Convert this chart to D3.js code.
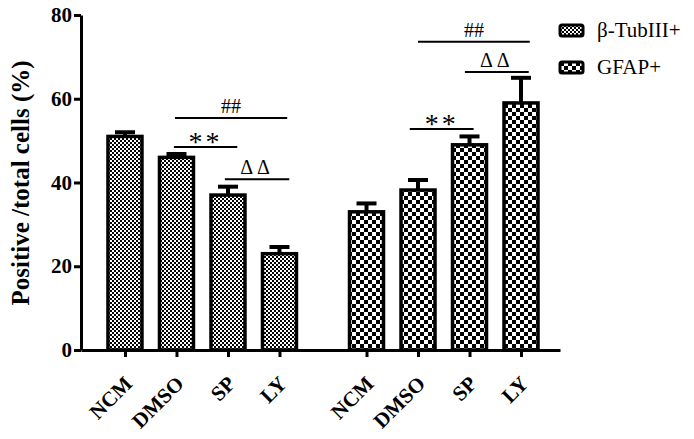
<!DOCTYPE html>
<html>
<head>
<meta charset="utf-8">
<script src="https://cdn.jsdelivr.net/npm/d3@7"></script>
<style>
  body { margin: 0; background: #fff; }
  svg { display: block; font-family: "Liberation Serif", "Times New Roman", serif; }
</style>
</head>
<body>
<div id="chart"></div>
<script>
// groups and values
var categories = ["NCM", "DMSO", "SP", "LY"];
var series = ["β-TubIII+", "GFAP+"];
var tubValues = [51.0, 46.0, 37.0, 23.0];
var tubErrors = [1.0, 0.8, 2.0, 1.6];
var gfapValues = [33.0, 38.2, 49.0, 59.0];
var gfapErrors = [2.0, 2.4, 2.0, 6.0];
var yTicks = [0, 20, 40, 60, 80];

// significance brackets: [series index, from position, to position, y value, label]
var sigGroup1 = [[0, 0.97, 3.15, 55.4, "##"], [0, 0.95, 2.18, 48.5, "**"], [0, 1.94, 3.19, 40.8, "ΔΔ"]];
var sigGroup2 = [[1, 1.0, 3.17, 73.6, "##"], [1, 1.91, 3.15, 66.4, "ΔΔ"], [1, 0.84, 2.08, 52.8, "**"]];

var width = 694, height = 439;
var groupGap = 4.69; // slot offset of second group

var svg = d3.select("#chart").append("svg")
    .attr("width", width)
    .attr("height", height);

// patterns
var defs = svg.append("defs");
var fine = defs.append("pattern").attr("id", "fine")
    .attr("patternUnits", "userSpaceOnUse").attr("width", 4).attr("height", 4);
fine.append("rect").attr("width", 4).attr("height", 4).attr("fill", "#fff");
fine.append("rect").attr("width", 2).attr("height", 2).attr("fill", "#000");
fine.append("rect").attr("x", 2).attr("y", 2).attr("width", 2).attr("height", 2).attr("fill", "#000");

var coarse = defs.append("pattern").attr("id", "coarse")
    .attr("patternUnits", "userSpaceOnUse").attr("width", 8).attr("height", 8);
coarse.append("rect").attr("width", 8).attr("height", 8).attr("fill", "#fff");
coarse.append("rect").attr("width", 4).attr("height", 4).attr("fill", "#000");
coarse.append("rect").attr("x", 4).attr("y", 4).attr("width", 4).attr("height", 4).attr("fill", "#000");

var fills = ["url(#fine)", "url(#coarse)"];

var x = d3.scaleLinear().domain([-0.854, 8.447]).range([81, 560]);
var y = d3.scaleLinear().domain([0, 80]).range([350, 15]);

var dataset = [];
categories.forEach(function (c, i) {
    dataset.push({ s: 0, cat: c, pos: i, v: tubValues[i], e: tubErrors[i] });
});
categories.forEach(function (c, i) {
    dataset.push({ s: 1, cat: c, pos: i + groupGap, v: gfapValues[i], e: gfapErrors[i] });
});

var barW = 34;

// error bars (upper only)
var err = svg.append("g");
err.selectAll("line.stem")
    .data(dataset).enter().append("line")
    .attr("class", "stem")
    .attr("x1", function (d) { return x(d.pos); })
    .attr("x2", function (d) { return x(d.pos); })
    .attr("y1", function (d) { return y(d.v); })
    .attr("y2", function (d) { return y(d.v + d.e); })
    .attr("stroke", "#000").attr("stroke-width", 4);
err.selectAll("line.cap")
    .data(dataset).enter().append("line")
    .attr("class", "cap")
    .attr("x1", function (d) { return x(d.pos) - 10; })
    .attr("x2", function (d) { return x(d.pos) + 10; })
    .attr("y1", function (d) { return y(d.v + d.e); })
    .attr("y2", function (d) { return y(d.v + d.e); })
    .attr("stroke", "#000").attr("stroke-width", 4);

// bars
svg.selectAll("rect.bar")
    .data(dataset).enter().append("rect")
    .attr("class", "bar")
    .attr("x", function (d) { return x(d.pos) - barW / 2; })
    .attr("y", function (d) { return y(d.v); })
    .attr("width", barW)
    .attr("height", function (d) { return y(0) - y(d.v); })
    .attr("fill", function (d) { return fills[d.s]; })
    .attr("stroke", "#000").attr("stroke-width", 3.5);

// axes
var yAxis = d3.axisLeft(y).tickValues(yTicks).tickSize(7).tickSizeOuter(0).tickPadding(2);
var gy = svg.append("g").attr("transform", "translate(81,0)").call(yAxis);
gy.select(".domain").attr("stroke-width", 3);
gy.selectAll(".tick line").attr("stroke-width", 3);
gy.selectAll(".tick text")
    .attr("font-family", "Liberation Serif").attr("font-weight", "bold")
    .attr("font-size", 21).attr("fill", "#000");

var xAxis = d3.axisBottom(x)
    .tickValues(dataset.map(function (d) { return d.pos; }))
    .tickFormat(function (p) {
        var d = dataset.find(function (e) { return e.pos === p; });
        return d.cat;
    })
    .tickSize(7).tickSizeOuter(0);
var gx = svg.append("g").attr("transform", "translate(0,350)").call(xAxis);
gx.select(".domain").attr("stroke-width", 3);
gx.selectAll(".tick line").attr("stroke-width", 3);
gx.selectAll(".tick text")
    .attr("y", 0).attr("dy", 0)
    .attr("text-anchor", "end")
    .attr("transform", "translate(8,35) rotate(-45)")
    .attr("font-family", "Liberation Serif").attr("font-weight", "bold")
    .attr("font-size", 21).attr("fill", "#000");

// y label
svg.append("text")
    .attr("transform", "translate(29,183) rotate(-90)")
    .attr("text-anchor", "middle")
    .attr("font-weight", "bold")
    .attr("font-size", 25)
    .text("Positive /total cells (%)");

// significance brackets
var sig = sigGroup1.concat(sigGroup2);
var sg = svg.append("g");
sg.selectAll("line")
    .data(sig).enter().append("line")
    .attr("x1", function (d) { return x(d[1] + d[0] * groupGap); })
    .attr("x2", function (d) { return x(d[2] + d[0] * groupGap); })
    .attr("y1", function (d) { return y(d[3]); })
    .attr("y2", function (d) { return y(d[3]); })
    .attr("stroke", "#000").attr("stroke-width", 2);
sg.selectAll("text")
    .data(sig).enter().append("text")
    .attr("x", function (d) { return (x(d[1] + d[0] * groupGap) + x(d[2] + d[0] * groupGap)) / 2; })
    .attr("y", function (d) {
        if (d[4] === "**") return y(d[3]) + 4;
        return y(d[3]) - 5;
    })
    .attr("text-anchor", "middle")
    .attr("font-size", function (d) { return d[4] === "**" ? 28 : 20; })
    .attr("letter-spacing", function (d) { return d[4] === "ΔΔ" ? 4 : (d[4] === "**" ? 3 : 0); })
    .text(function (d) { return d[4]; });

// legend
var legend = svg.append("g");
var items = legend.selectAll("g")
    .data(series).enter().append("g")
    .attr("transform", function (d, i) { return "translate(560," + (25 + i * 37) + ")"; });
items.append("rect")
    .attr("width", 23).attr("height", 11).attr("rx", 2)
    .attr("fill", function (d, i) { return fills[i]; })
    .attr("stroke", "#000").attr("stroke-width", 3);
items.append("text")
    .attr("x", 37).attr("y", 12)
    .attr("font-size", 21)
    .text(function (d) { return d; });
</script>
</body>
</html>
